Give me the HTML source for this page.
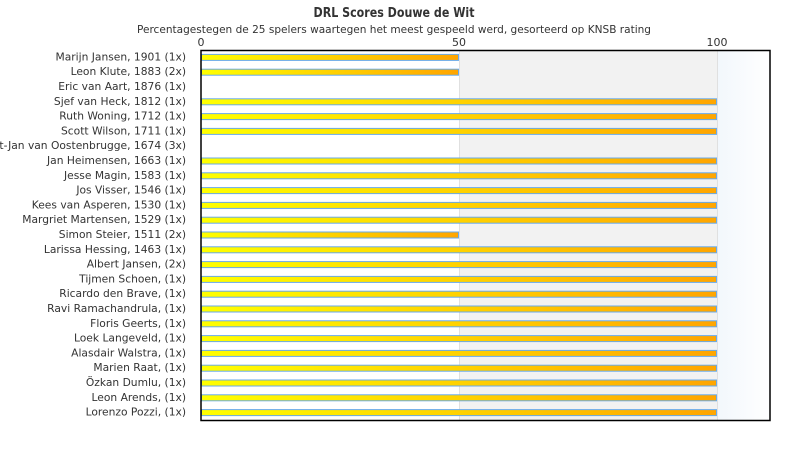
<!DOCTYPE html>
<html><head><meta charset="utf-8"><style>
html,body{margin:0;padding:0;background:#fff;}
svg{display:block;font-family:"DejaVu Sans","Liberation Sans",sans-serif;}
</style></head><body>
<svg width="790" height="450" viewBox="0 0 790 450" xmlns="http://www.w3.org/2000/svg">
<defs>
<linearGradient id="g" x1="0" y1="0" x2="1" y2="0"><stop offset="0" stop-color="#ffff00"/><stop offset="1" stop-color="#ffa500"/></linearGradient>
<linearGradient id="b" x1="0" y1="0" x2="1" y2="0"><stop offset="0" stop-color="#f2f7fc"/><stop offset="1" stop-color="#ffffff"/></linearGradient>
</defs>
<text x="394" y="17" text-anchor="middle" font-size="13" font-weight="bold" fill="#333" textLength="161" lengthAdjust="spacingAndGlyphs">DRL Scores Douwe de Wit</text>
<text x="394" y="33" text-anchor="middle" font-size="11" fill="#333" textLength="514" lengthAdjust="spacingAndGlyphs">Percentagestegen de 25 spelers waartegen het meest gespeeld werd, gesorteerd op KNSB rating</text>
<text x="201" y="46" text-anchor="middle" font-size="11" fill="#333">0</text>
<text x="459" y="46" text-anchor="middle" font-size="11" fill="#333">50</text>
<text x="717" y="46" text-anchor="middle" font-size="11" fill="#333">100</text>
<rect x="459" y="50" width="258" height="370" fill="#f2f2f2"/>
<rect x="717" y="50" width="53" height="370" fill="url(#b)"/>
<line x1="459.5" y1="50" x2="459.5" y2="420" stroke="#e0e0e0"/>
<line x1="717.5" y1="50" x2="717.5" y2="420" stroke="#e0e0e0"/>
<g font-size="10.7" fill="#333" text-anchor="end">
<text x="186" y="60.4">Marijn Jansen, 1901 (1x)</text>
<text x="186" y="75.2">Leon Klute, 1883 (2x)</text>
<text x="186" y="90">Eric van Aart, 1876 (1x)</text>
<text x="186" y="104.8">Sjef van Heck, 1812 (1x)</text>
<text x="186" y="119.6">Ruth Woning, 1712 (1x)</text>
<text x="186" y="134.4">Scott Wilson, 1711 (1x)</text>
<text x="186" y="149.2">Gert-Jan van Oostenbrugge, 1674 (3x)</text>
<text x="186" y="164">Jan Heimensen, 1663 (1x)</text>
<text x="186" y="178.8">Jesse Magin, 1583 (1x)</text>
<text x="186" y="193.6">Jos Visser, 1546 (1x)</text>
<text x="186" y="208.4">Kees van Asperen, 1530 (1x)</text>
<text x="186" y="223.2">Margriet Martensen, 1529 (1x)</text>
<text x="186" y="238">Simon Steier, 1511 (2x)</text>
<text x="186" y="252.8">Larissa Hessing, 1463 (1x)</text>
<text x="186" y="267.6">Albert Jansen,  (2x)</text>
<text x="186" y="282.4">Tijmen Schoen,  (1x)</text>
<text x="186" y="297.2">Ricardo den Brave,  (1x)</text>
<text x="186" y="312">Ravi Ramachandrula,  (1x)</text>
<text x="186" y="326.8">Floris Geerts,  (1x)</text>
<text x="186" y="341.6">Loek Langeveld,  (1x)</text>
<text x="186" y="356.4">Alasdair Walstra,  (1x)</text>
<text x="186" y="371.2">Marien Raat,  (1x)</text>
<text x="186" y="386">Özkan Dumlu,  (1x)</text>
<text x="186" y="400.8">Leon Arends,  (1x)</text>
<text x="186" y="415.6">Lorenzo Pozzi,  (1x)</text>
</g>
<g fill="url(#g)" stroke="#6aaae8" stroke-width="1">
<rect x="201.5" y="54.4" width="257" height="6"/>
<rect x="201.5" y="69.2" width="257" height="6"/>
<rect x="201.5" y="98.8" width="515" height="6"/>
<rect x="201.5" y="113.6" width="515" height="6"/>
<rect x="201.5" y="128.4" width="515" height="6"/>
<rect x="201.5" y="158" width="515" height="6"/>
<rect x="201.5" y="172.8" width="515" height="6"/>
<rect x="201.5" y="187.6" width="515" height="6"/>
<rect x="201.5" y="202.4" width="515" height="6"/>
<rect x="201.5" y="217.2" width="515" height="6"/>
<rect x="201.5" y="232" width="257" height="6"/>
<rect x="201.5" y="246.8" width="515" height="6"/>
<rect x="201.5" y="261.6" width="515" height="6"/>
<rect x="201.5" y="276.4" width="515" height="6"/>
<rect x="201.5" y="291.2" width="515" height="6"/>
<rect x="201.5" y="306" width="515" height="6"/>
<rect x="201.5" y="320.8" width="515" height="6"/>
<rect x="201.5" y="335.6" width="515" height="6"/>
<rect x="201.5" y="350.4" width="515" height="6"/>
<rect x="201.5" y="365.2" width="515" height="6"/>
<rect x="201.5" y="380" width="515" height="6"/>
<rect x="201.5" y="394.8" width="515" height="6"/>
<rect x="201.5" y="409.6" width="515" height="6"/>
</g>
<rect x="201" y="50.5" width="569" height="370" fill="none" stroke="#000" stroke-width="1.5"/>
</svg>
</body></html>
